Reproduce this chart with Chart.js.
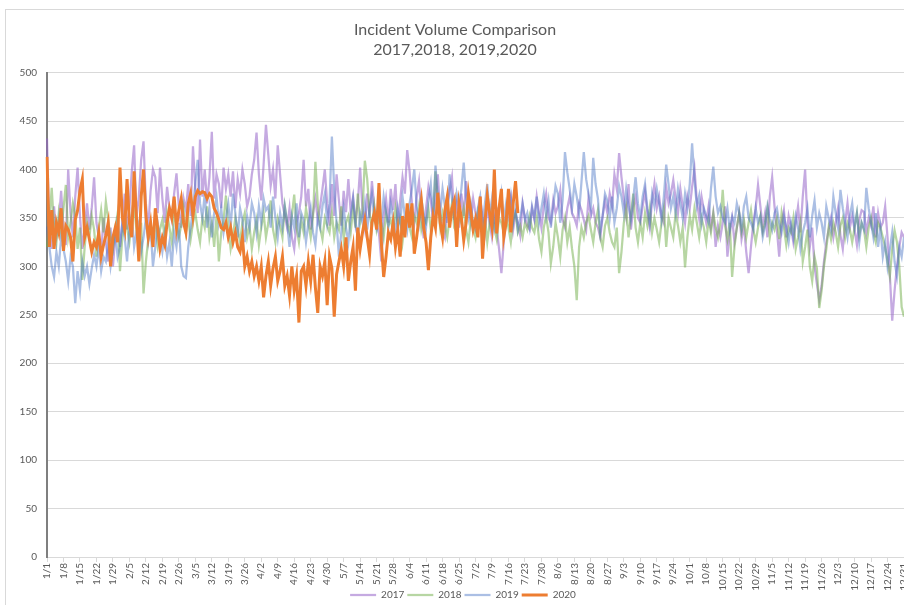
<!DOCTYPE html>
<html>
<head>
<meta charset="utf-8">
<script src="https://cdn.jsdelivr.net/npm/chart.js@4.4.1/dist/chart.umd.min.js"></script>
<style>
  html, body { margin: 0; padding: 0; background: #fff; overflow: hidden; }
  #frame {
    position: absolute; left: 5px; top: 9px;
    width: 913px; height: 601px;
    border-top: 1px solid #d9d9d9; border-left: 1px solid #d9d9d9;
  }
  #frame canvas { display: block; }
</style>
</head>
<body>
<div id="frame"><canvas id="incidentChart" width="913" height="600"></canvas></div>
<script>
// Day-of-year category labels (non-leap calendar, like the source sheet)
const monthLengths = [31, 28, 31, 30, 31, 30, 31, 31, 30, 31, 30, 31];
const dayLabels = [];
monthLengths.forEach((len, m) => {
    for (let d = 1; d <= len; d++) dayLabels.push((m + 1) + '/' + d);
});

const seriesNames = ['2017', '2018', '2019', '2020'];
const yTicks = [0, 50, 100, 150, 200, 250, 300, 350, 400, 450, 500];

// Daily incident counts, one row per week
const incidents2017 = [
    432, 335, 318, 362, 330, 345, 378,
    340, 322, 400, 355, 330, 372, 402,
    352, 318, 340, 365, 338, 360, 392,
    345, 330, 312, 350, 325, 305, 340,
    300, 330, 352, 320, 345, 375, 338,
    360, 398, 425, 350, 372, 410, 429,
    365, 340, 378, 400, 392, 355, 402,
    370, 345, 382, 360, 348, 375, 396,
    362, 340, 370, 358, 385, 352, 424,
    380, 355, 431, 372, 400, 365, 392,
    439, 370, 395, 385, 360, 402, 380,
    395, 372, 398, 360, 390, 375, 400,
    385, 362, 372, 395, 410, 438, 395,
    368, 405, 446, 415, 383, 400, 370,
    425, 395, 365, 352, 340, 360, 330,
    318, 345, 355, 372, 410, 362, 380,
    338, 355, 370, 348, 362, 380, 400,
    365, 342, 385, 352, 395, 368, 342,
    378, 356, 390, 356, 372, 345, 365,
    402, 358, 340, 375, 350, 388, 362,
    345, 334, 305, 352, 370, 345, 380,
    358, 385, 340, 368, 392, 375, 420,
    398, 365, 345, 372, 388, 352, 329,
    360, 382, 369, 345, 372, 395, 355,
    338, 330, 362, 378, 392, 348, 365,
    340, 375, 352, 388, 362, 345, 370,
    355, 340, 372, 350, 335, 362, 345,
    330, 352, 340, 318, 293, 325, 348,
    362, 372, 338, 355, 345, 332, 365,
    350, 342, 338, 360, 348, 372, 355,
    340, 362, 375, 350, 345, 368, 355,
    362, 378, 348, 340, 360, 372, 355,
    350, 342, 365, 358, 348, 338, 370,
    352, 360, 345, 340, 330, 352, 368,
    355, 375, 362, 395, 380, 417, 392,
    370, 352, 385, 338, 360, 372, 350,
    345, 362, 378, 355, 340, 368, 385,
    360, 372, 352, 345, 382, 365, 375,
    389, 370, 355, 380, 362, 345, 372,
    360, 382, 401, 368, 350, 372, 358,
    345, 362, 340, 355, 320, 342, 330,
    345, 362, 310, 335, 350, 325, 340,
    355, 328, 342, 315, 293, 320, 345,
    360, 384, 362, 340, 355, 330, 372,
    392, 362, 338, 310, 345, 358, 330,
    352, 340, 325, 345, 362, 335, 372,
    400, 345, 320, 340, 300, 282, 265,
    280, 305, 325, 338, 350, 330, 345,
    360, 332, 318, 345, 365, 340, 352,
    338, 322, 348, 358, 356, 335, 350,
    342, 362, 330, 355, 340, 345, 362,
    330, 290, 244, 275, 300, 320, 335,
    330
];

const incidents2018 = [
    320, 345, 381, 340, 325, 355, 335,
    360, 384, 330, 345, 365, 352, 318,
    340, 286, 320, 345, 330, 352, 338,
    310, 340, 358, 335, 367, 348, 330,
    318, 340, 355, 295, 330, 352, 340,
    325, 348, 362, 338, 320, 345, 272,
    305, 328, 342, 335, 350, 322, 338,
    348, 330, 355, 340, 325, 352, 345,
    330, 342, 360, 335, 350, 328, 345,
    355, 338, 325, 350, 340, 362, 330,
    345, 320, 352, 305, 335, 348, 373,
    340, 318, 332, 350, 338, 325, 345,
    355, 330, 342, 318, 335, 348, 322,
    340, 355, 330, 345, 368, 338, 325,
    350, 342, 330, 362, 345, 335, 352,
    374, 340, 325, 348, 335, 360, 345,
    330, 352, 408, 365, 340, 328, 350,
    342, 335, 355, 330, 345, 338, 362,
    328, 345, 352, 335, 360, 340, 375,
    345, 358, 409, 390, 355, 340, 362,
    338, 350, 345, 330, 355, 342, 348,
    335, 360, 342, 350, 325, 345, 358,
    340, 330, 352, 345, 362, 338, 350,
    345, 360, 338, 352, 398, 365, 340,
    355, 342, 330, 350, 365, 340, 335,
    352, 345, 360, 338, 325, 348, 340,
    330, 355, 342, 338, 350, 325, 345,
    360, 340, 328, 350, 345, 335, 352,
    340, 325, 348, 355, 335, 342, 330,
    345, 338, 352, 340, 335, 350, 328,
    315, 340, 352, 335, 303, 320, 345,
    330, 310, 338, 350, 325, 340, 318,
    300, 265, 320, 340, 330, 345, 352,
    338, 325, 345, 358, 330, 320, 342,
    350, 335, 325, 320, 340, 293, 315,
    345, 360, 330, 352, 375, 340, 325,
    345, 330, 355, 342, 360, 335, 350,
    338, 325, 345, 360, 320, 350, 340,
    330, 355, 342, 325, 340, 299, 330,
    352, 338, 360, 345, 330, 350, 340,
    325, 348, 335, 355, 340, 330, 345,
    379, 342, 328, 345, 289, 320, 340,
    355, 335, 348, 330, 345, 358, 338,
    325, 340, 352, 335, 345, 360, 330,
    345, 338, 350, 328, 355, 340, 322,
    340, 335, 350, 318, 330, 345, 305,
    320, 338, 300, 285, 310, 298, 257,
    275, 300, 318, 340, 328, 345, 335,
    320, 342, 350, 330, 345, 338, 325,
    340, 355, 332, 345, 338, 320, 340,
    350, 335, 325, 345, 340, 330, 320,
    305, 290, 318, 337, 325, 300, 258,
    248
];

const incidents2019 = [
    341, 320, 300, 289, 315, 300, 330,
    318, 305, 285, 310, 300, 262, 295,
    275, 305, 290, 300, 282, 298, 312,
    300, 320, 295, 310, 305, 325, 300,
    318, 335, 310, 320, 345, 330, 305,
    340, 355, 320, 335, 345, 315, 330,
    350, 325, 340, 300, 320, 345, 330,
    315, 335, 310, 325, 300, 335, 320,
    345, 300, 290, 288, 320, 340, 360,
    386, 410, 365, 350, 375, 340, 360,
    330, 355, 372, 345, 360, 335, 350,
    365, 340, 375, 355, 330, 360, 348,
    325, 352, 340, 365, 355, 335, 362,
    345, 370, 358, 362, 340, 372, 350,
    330, 355, 340, 362, 345, 320, 352,
    340, 365, 330, 355, 348, 325, 345,
    360, 335, 322, 350, 340, 362, 375,
    345, 365, 434, 380, 345, 310, 335,
    360, 340, 325, 352, 370, 345, 330,
    355, 345, 365, 338, 360, 375, 350,
    340, 362, 345, 372, 355, 340, 365,
    350, 335, 360, 345, 372, 352, 338,
    365, 380, 400, 362, 345, 370, 355,
    340, 368, 385, 350, 404, 372, 355,
    380, 362, 345, 395, 370, 350, 375,
    362, 380, 407, 372, 350, 365, 345,
    338, 360, 372, 345, 365, 385, 352,
    370, 342, 360, 355, 375, 348, 365,
    352, 372, 345, 360, 338, 350, 365,
    348, 355, 340, 362, 350, 372, 345,
    360, 375, 352, 368, 340, 362, 383,
    375, 345, 368, 418, 397, 380, 360,
    385, 372, 355, 387, 418, 390, 375,
    360, 412, 385, 370, 336, 352, 375,
    368, 350, 372, 345, 360, 383, 372,
    355, 380, 362, 348, 370, 392, 365,
    350, 372, 385, 360, 345, 375, 362,
    380, 365, 348, 372, 405, 385, 360,
    372, 355, 380, 365, 350, 375, 360,
    385, 427, 390, 362, 373, 345, 360,
    352, 345, 380, 403, 372, 355, 362,
    350, 345, 360, 338, 352, 345, 365,
    355, 340, 362, 372, 350, 345, 338,
    360, 345, 352, 330, 342, 362, 348,
    338, 355, 360, 345, 335, 352, 340,
    325, 345, 330, 352, 340, 318, 335,
    345, 360, 330, 352, 368, 340, 355,
    345, 330, 362, 350, 338, 372, 355,
    340, 379, 360, 345, 330, 352, 365,
    340, 355, 325, 345, 338, 381, 360,
    345, 330, 355, 320, 340, 310, 325,
    300, 318, 335, 305, 290, 320, 310,
    330
];

// 2020 only runs to mid July
const incidents2020 = [
    413, 320, 358, 318, 345, 335, 360,
    316, 342, 338, 330, 305, 348, 358,
    378, 390, 330, 340, 328, 315, 325,
    320, 335, 310, 322, 332, 345, 300,
    330, 340, 325, 402, 350, 338, 390,
    345, 330, 398, 350, 305, 372, 400,
    352, 330, 345, 320, 360, 340, 318,
    330, 322, 345, 360, 350, 372, 340,
    358, 370, 345, 335, 365, 375, 352,
    372, 378, 375, 377, 376, 370, 375,
    372, 360, 355, 348, 340, 338, 345,
    330, 340, 325, 335, 320, 315, 330,
    300, 310, 295, 305, 290, 300, 285,
    300, 268, 290, 305, 280, 298, 310,
    285, 295, 310, 280, 290, 270, 300,
    275, 290, 242, 295, 300, 280, 305,
    285, 312, 278, 252, 300, 290, 305,
    260, 310, 298, 248, 292, 305, 318,
    300, 330, 285, 305, 320, 275, 340,
    318, 335, 348, 330, 312, 345, 355,
    338, 386, 325, 289, 310, 335, 328,
    345, 320, 338, 310, 352, 330, 365,
    340, 365, 313, 330, 350, 368, 340,
    325, 296, 330, 352, 340, 376, 345,
    330, 358, 372, 340, 360, 368, 320,
    365, 350, 327, 345, 375, 357, 338,
    349, 330, 372, 308, 345, 373, 355,
    340, 400, 334, 360, 380, 330, 345,
    380, 335, 365, 388, 355
];

const seriesValues = [incidents2017, incidents2018, incidents2019, incidents2020];
const seriesColors = [
    'rgba(150, 100, 200, 0.55)',
    'rgba(112, 173, 71, 0.5)',
    'rgba(68, 114, 196, 0.45)',
    'rgba(237, 125, 49, 1)'
];
const seriesWidths = [2.25, 2.25, 2.25, 3];
const drawOrder = [3, 2, 1, 0];   // orange on top

const textColor = '#595959';
const gridColor = '#d9d9d9';
const fontFamily = 'Lato, "Open Sans", "Liberation Sans", sans-serif';

// let the rotated day labels run below the x scale box instead of being clipped,
// and center the legend on the whole frame rather than the padded area
const layoutTweaks = {
    id: 'layoutTweaks',
    afterLayout(chart) {
        chart.scales.x.bottom = chart.height;
        chart.legend.left += 8;
        chart.legend.right += 8;
    }
};

const ctx = document.getElementById('incidentChart').getContext('2d');
new Chart(ctx, {
    type: 'line',
    data: {
        labels: dayLabels,
        datasets: seriesNames.map((name, i) => ({
            label: name,
            data: seriesValues[i],
            borderColor: seriesColors[i],
            backgroundColor: seriesColors[i],
            borderWidth: seriesWidths[i],
            pointRadius: 0,
            tension: 0,
            fill: false,
            order: drawOrder[i]
        }))
    },
    options: {
        responsive: false,
        animation: false,
        layout: { padding: { left: 0, right: 15, top: 0, bottom: 0 } },
        plugins: {
            tooltip: { enabled: false },
            title: {
                display: true,
                text: ['Incident Volume Comparison', '2017,2018, 2019,2020'],
                color: textColor,
                font: { family: fontFamily, size: 16, weight: 'normal', lineHeight: 1.3 },
                padding: { top: 9, bottom: 12 }
            },
            legend: {
                position: 'bottom',
                labels: {
                    sort: (a, b) => a.datasetIndex - b.datasetIndex,
                    usePointStyle: true,
                    pointStyle: 'line',
                    pointStyleWidth: 26,
                    color: textColor,
                    font: { family: fontFamily, size: 10 },
                    padding: 3
                }
            }
        },
        scales: {
            x: {
                afterFit: scale => { scale.height = 30; },
                grid: {
                    drawOnChartArea: false,
                    drawTicks: true,
                    tickLength: 5,
                    color: gridColor
                },
                border: { color: gridColor, width: 1 },
                ticks: {
                    autoSkip: false,
                    minRotation: 90,
                    maxRotation: 90,
                    padding: 1,
                    color: textColor,
                    font: { family: fontFamily, size: 10 },
                    callback: (value, index) => index % 7 === 0 ? dayLabels[index] : null
                }
            },
            y: {
                min: 0,
                max: 500,
                afterFit: scale => { scale.width = 41; },
                afterBuildTicks: scale => { scale.ticks = yTicks.map(v => ({ value: v })); },
                grid: { color: gridColor, drawTicks: false },
                border: { color: '#7f7f7f', width: 2 },
                ticks: {
                    padding: 10,
                    color: textColor,
                    font: { family: fontFamily, size: 10 }
                }
            }
        }
    },
    plugins: [layoutTweaks]
});
</script>
</body>
</html>
